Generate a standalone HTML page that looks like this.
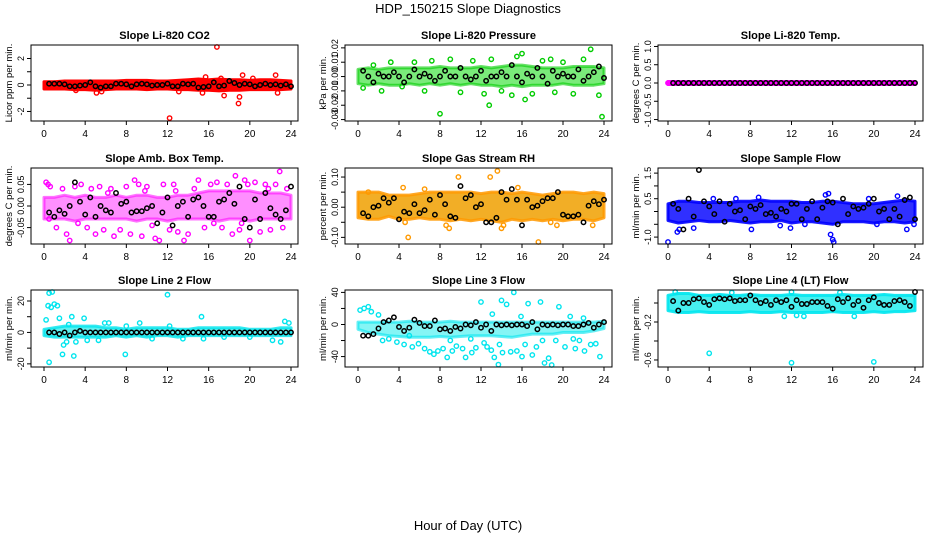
<!DOCTYPE html>
<html><head><meta charset="utf-8"><style>
body{margin:0;background:#fff}
svg{display:block;font-family:"Liberation Sans",sans-serif}
</style></head><body>
<svg id="c" width="936" height="540" viewBox="0 0 936 540">
<text x="468" y="13" text-anchor="middle" font-size="13">HDP_150215  Slope Diagnostics</text>
<text x="468" y="530" text-anchor="middle" font-size="13">Hour of Day (UTC)</text>
</svg>
<script>
const bandHours=[0,1,2,3,4,5,6,7,8,9,10,11,12,13,14,15,16,17,18,19,20,21,22,23,24];
const blackHours=[0.5,1,1.5,2,2.5,3,3.5,4,4.5,5,5.5,6,6.5,7,7.5,8,8.5,9,9.5,10,10.5,11,11.5,12,12.5,13,13.5,14,14.5,15,15.5,16,16.5,17,17.5,18,18.5,19,19.5,20,20.5,21,21.5,22,22.5,23,23.5,24];
const xTicks=[0,4,8,12,16,20,24];

const co2Lo=[-0.3,-0.3,-0.3,-0.35,-0.35,-0.4,-0.35,-0.3,-0.3,-0.3,-0.35,-0.3,-0.3,-0.35,-0.35,-0.4,-0.4,-0.45,-0.4,-0.4,-0.35,-0.35,-0.35,-0.35,-0.3];
const co2Hi=[0.25,0.25,0.3,0.3,0.3,0.3,0.3,0.3,0.35,0.35,0.35,0.3,0.3,0.35,0.4,0.45,0.4,0.45,0.4,0.4,0.35,0.4,0.4,0.35,0.3];
const co2Pts=[[16.8,2.9],[12.2,-2.5],[18.9,-1.4],[19.3,0.75],[22.5,0.75],[5.1,-0.6],[5.6,-0.5],[15.7,0.6],[15.4,-0.6],[17.5,-0.8],[22.7,-0.6],[19,-0.9],[3.1,-0.4],[13.1,-0.5],[17.2,0.5],[20.3,0.5]];
const co2Black=[0.1,0.1,0.1,0.05,-0.1,-0.1,-0.05,0,0.2,-0.1,-0.2,-0.1,-0.1,0.1,0.1,0.05,-0.1,0.05,0.1,0.05,-0.05,0,0,0.1,-0.1,-0.1,0.1,0.05,0.1,-0.2,-0.15,-0.1,0.2,-0.1,-0.05,0.3,0.15,0,0.1,0.05,-0.1,0,0.1,0,0.05,-0.05,0.05,-0.1];

const presLo=[-0.005,-0.006,-0.005,-0.006,-0.006,-0.005,-0.006,-0.005,-0.006,-0.005,-0.006,-0.005,-0.006,-0.006,-0.007,-0.006,-0.007,-0.006,-0.006,-0.006,-0.005,-0.006,-0.006,-0.006,-0.005];
const presHi=[0.005,0.006,0.005,0.006,0.006,0.006,0.006,0.006,0.007,0.006,0.006,0.006,0.007,0.006,0.007,0.008,0.008,0.007,0.006,0.006,0.006,0.007,0.007,0.007,0.006];
const presPts=[[0.5,-0.008],[1.5,0.008],[2.3,-0.01],[3.2,0.01],[4.3,-0.007],[5.5,0.01],[6.5,-0.01],[7.2,0.011],[8,-0.026],[9,0.012],[10,-0.011],[11.2,0.011],[12.3,-0.012],[13,0.012],[14,-0.01],[15.5,0.014],[16,0.016],[16.3,-0.016],[17,-0.012],[18,0.011],[19.2,-0.011],[20,0.01],[21,-0.012],[22,0.012],[22.7,0.019],[23.5,-0.013],[23.8,-0.028],[12.8,-0.02],[18.8,0.012],[15,-0.013]];
const presBlack=[0.004,0,-0.004,0.002,0,0,0.003,0,-0.004,0,0.005,0,0.002,0,-0.003,0,0.004,0,0,0.006,0,-0.002,0,0.004,-0.003,0,0,0.003,0,0.008,0,-0.004,0.002,0,0.006,0,-0.005,0.004,0,0.002,0,0,0.005,-0.003,0,0.003,0.007,-0.001];

const tempLo=[-0.04,-0.04,-0.04,-0.04,-0.04,-0.04,-0.04,-0.04,-0.04,-0.04,-0.04,-0.04,-0.04,-0.04,-0.04,-0.04,-0.04,-0.04,-0.04,-0.04,-0.04,-0.04,-0.04,-0.04,-0.04];
const tempHi=[0.04,0.04,0.04,0.04,0.04,0.04,0.04,0.04,0.04,0.04,0.04,0.04,0.04,0.04,0.04,0.04,0.04,0.04,0.04,0.04,0.04,0.04,0.04,0.04,0.04];
const tempPts=[[0,0],[0.3,0],[12,0],[24,0]];
const tempBlack=[0,0,0,0,0,0,0,0,0,0,0,0,0,0,0,0,0,0,0,0,0,0,0,0,0,0,0,0,0,0,0,0,0,0,0,0,0,0,0,0,0,0,0,0,0,0,0,0];

const ambLo=[-0.03,-0.03,-0.03,-0.035,-0.03,-0.03,-0.03,-0.03,-0.03,-0.035,-0.03,-0.03,-0.035,-0.03,-0.03,-0.03,-0.03,-0.035,-0.03,-0.03,-0.035,-0.03,-0.03,-0.03,-0.03];
const ambHi=[0.02,0.02,0.025,0.02,0.025,0.02,0.02,0.025,0.02,0.025,0.025,0.02,0.02,0.025,0.025,0.03,0.035,0.035,0.035,0.035,0.035,0.03,0.03,0.03,0.025];
const ambPts=[[0.2,0.055],[0.4,0.05],[0.6,0.045],[1.2,-0.05],[1.8,0.04],[2.2,-0.065],[2.5,-0.08],[3,0.045],[3.6,0.05],[4.2,-0.05],[4.6,0.04],[5,-0.065],[5.4,0.045],[5.8,-0.055],[6.5,0.04],[6.8,-0.07],[7.4,-0.055],[8,0.045],[8.4,-0.065],[8.8,0.06],[9.2,0.05],[9.5,-0.07],[10,0.045],[10.5,-0.045],[10.8,-0.075],[11.2,-0.08],[11.6,0.05],[12.2,-0.055],[12.6,0.05],[13,-0.06],[13.6,-0.08],[14,-0.065],[14.6,0.04],[15,0.06],[15.6,-0.05],[16.2,0.05],[16.8,0.055],[17.3,-0.05],[17.8,0.05],[18.3,-0.065],[18.6,0.07],[19,-0.055],[19.5,0.06],[19.8,0.05],[20,-0.08],[20.5,0.055],[21,-0.06],[21.5,0.05],[22,-0.055],[22.5,0.05],[22.9,0.08],[23.2,-0.05],[23.6,0.04],[0.5,-0.03],[3.3,-0.04],[6.2,0.03],[9.8,0.035],[12.8,0.035],[16.5,-0.04],[19.2,-0.04],[21.8,0.04]];
const ambBlack=[-0.015,-0.025,-0.01,-0.018,0,0.055,0.01,-0.02,0.02,-0.025,0,-0.01,-0.015,0.03,0.005,0.01,-0.015,-0.012,-0.012,-0.005,0,-0.04,-0.015,0.02,-0.045,0,0.01,-0.025,0.015,0.02,0,-0.025,-0.025,0.01,0.015,0.03,0.005,0.045,-0.03,-0.05,0.015,-0.03,0.03,-0.005,-0.02,-0.03,-0.01,0.045];

const rhLo=[-0.035,-0.04,-0.04,-0.03,-0.04,-0.04,-0.035,-0.04,-0.04,-0.045,-0.04,-0.045,-0.04,-0.045,-0.05,-0.04,-0.045,-0.04,-0.045,-0.04,-0.045,-0.04,-0.04,-0.045,-0.035];
const rhHi=[0.05,0.05,0.05,0.04,0.04,0.04,0.045,0.05,0.05,0.05,0.05,0.05,0.045,0.05,0.05,0.045,0.05,0.045,0.04,0.045,0.05,0.05,0.045,0.05,0.045];
const rhPts=[[4.6,-0.05],[4.9,-0.1],[8.6,-0.06],[8.9,-0.07],[9.8,0.1],[12.9,0.1],[13.6,0.12],[14.2,-0.06],[14,-0.07],[15.6,0.065],[17.6,-0.12],[18.8,-0.05],[19.4,-0.06],[22.9,-0.06],[4.4,0.065],[6.5,0.06],[1,0.05]];
const rhBlack=[-0.02,-0.03,0,0.005,0.03,0.015,0.03,-0.04,-0.015,-0.02,0.01,-0.02,-0.01,0.025,-0.025,0.04,0.01,-0.03,-0.035,0.07,0.03,0.04,0,0.01,-0.05,-0.05,-0.035,0.05,0.025,0.06,0.025,-0.06,0.025,0,0.005,0.02,0.03,0.03,0.05,-0.025,-0.03,-0.03,-0.025,-0.05,0.005,0.02,0.01,0.025];

const sfLo=[-0.35,-0.45,-0.4,-0.35,-0.4,-0.4,-0.35,-0.4,-0.45,-0.4,-0.4,-0.35,-0.45,-0.4,-0.4,-0.45,-0.5,-0.4,-0.4,-0.4,-0.45,-0.4,-0.4,-0.45,-0.4];
const sfHi=[0.3,0.4,0.4,0.35,0.35,0.35,0.35,0.4,0.4,0.45,0.4,0.4,0.4,0.35,0.35,0.4,0.4,0.35,0.3,0.3,0.3,0.35,0.4,0.45,0.4];
const sfPts=[[0,-1.2],[0.9,-0.8],[1.1,-0.7],[2.5,-0.65],[8.1,-0.7],[11.9,-0.65],[15.8,-0.9],[16,-1.1],[16.1,-1.25],[15.3,0.65],[15.6,0.7],[19.5,0.5],[22.3,0.6],[23.2,-0.7],[23.9,-0.5],[8.8,0.55],[6.6,0.5],[4.4,0.5],[10.9,-0.55],[13.3,-0.5],[20.3,-0.5]];
const sfBlack=[0.3,0.1,-0.7,0.5,-0.2,1.7,0.4,0.2,-0.1,0.4,-0.4,0.3,0,0.05,-0.3,0.2,0.1,0.25,-0.1,-0.05,-0.2,0.1,0,0.3,0.3,-0.3,0.1,0.4,-0.3,0.15,0.4,0.35,-0.5,0.5,-0.1,0.2,0.1,0.15,0.3,0.5,0,0.1,-0.3,0.1,-0.2,0.45,0.55,-0.3];

const l2Lo=[-2,-3,-3,-3,-3,-3,-3,-2,-3,-2,-3,-2,-2,-3,-2,-2,-2,-2,-2,-2,-2,-2,-2,-2,-2];
const l2Hi=[2,3,4,4,4,4,3,3,2,3,3,3,3,2,2,3,3,3,3,3,2,2,2,3,3];
const l2Pts=[[0.2,8],[0.4,17],[0.5,25],[0.8,26],[0.7,16],[1,18],[1.3,17],[0.5,-19],[1.5,9],[1.9,-8],[1.8,-14],[2.4,5],[2.7,10],[2.9,-15],[3.1,-6],[3.9,9],[4.2,-5],[5.3,-5],[5.9,6],[7.9,-14],[8,4],[9.3,6],[12,24],[12.2,4],[15.3,10],[15.5,-4],[20,-3],[22.2,-5],[23,-6],[23.4,7],[23.8,6],[2.2,-6],[6.3,6],[10.5,-4],[17.5,-3],[13.5,-4]];
const l2Black=[0,0,-1,0,-2,0,1,0,0,0,0,0,0,0,0,0,0,0,0,0,0,0,0,0,0,0,0,0,0,0,0,0,0,0,0,0,0,0,0,0,0,0,0,0,0,0,0,0];

const l3Lo=[-6,-10,-12,-14,-15,-16,-16,-16,-15,-16,-15,-14,-14,-14,-15,-16,-14,-12,-12,-12,-10,-10,-10,-8,-5];
const l3Hi=[3,3,3,3,3,4,3,3,3,4,3,3,3,3,3,3,3,3,3,3,3,3,3,3,4];
const l3Pts=[[0.2,18],[0.6,20],[1,22],[1.3,16],[2,12],[2.4,-20],[3,-18],[3.8,-22],[4.5,-25],[5.3,-28],[5.9,-24],[6.5,-30],[7,-34],[7.4,-37],[7.8,-33],[8.3,-30],[8.7,-41],[9.2,-33],[9.6,-27],[10.2,-30],[10.5,-41],[11.1,-35],[11.5,-29],[12,28],[12.3,-23],[12.6,-28],[13,-32],[13.3,-41],[13.7,-50],[14.1,-35],[14.5,25],[14.9,-34],[15.2,40],[15.5,-33],[16,-40],[16.6,26],[17,-38],[17.4,-28],[17.8,28],[18.2,-48],[18.6,-42],[18.9,-53],[19.3,-20],[19.6,22],[20.2,-28],[20.7,10],[21.2,-30],[21.6,-20],[22.1,-33],[22.7,-25],[23.2,-24],[23.6,-40],[5,-14],[9,-20],[11,-18],[13.8,-25],[16.3,-25],[18,-20],[21,-18],[14,30],[13.1,13],[15.9,10],[22,8]];
const l3Black=[-14,-14,-12,-5,3,5,9,-3,-8,-4,6,2,-2,-2,5,-6,-5,-8,-3,-5,0,-1,3,-4,0,-8,0,-1,0,-1,0,0,-2,3,-6,0,-1,0,-1,0,0,-2,-2,0,2,-4,0,3];

const l4Lo=[-0.08,-0.1,-0.1,-0.09,-0.1,-0.1,-0.1,-0.1,-0.09,-0.1,-0.1,-0.09,-0.1,-0.1,-0.1,-0.1,-0.09,-0.1,-0.1,-0.1,-0.09,-0.1,-0.09,-0.09,-0.08];
const l4Hi=[0.08,0.1,0.1,0.08,0.08,0.09,0.08,0.08,0.09,0.08,0.08,0.08,0.09,0.08,0.08,0.08,0.08,0.09,0.08,0.08,0.08,0.09,0.08,0.08,0.08];
const l4Pts=[[0.7,0.13],[4,-0.53],[12,-0.63],[20,-0.62],[12,0.12],[6.2,0.11],[11.3,-0.14],[12.5,-0.13],[13.2,-0.14],[18.1,-0.14],[16.7,0.11]];
const l4Black=[0.02,-0.08,0,0,0.04,0.05,0.01,-0.02,0.04,0.05,0.04,0.05,0.02,0.03,0.03,0.08,0.03,0,0.02,-0.02,0.03,0.01,0.03,-0.04,0.03,-0.01,-0.01,0.01,0.01,0.01,-0.03,-0.06,0.04,0.01,0.05,-0.02,0.02,-0.05,0.03,0.06,0,-0.02,-0.02,0.02,0.03,0.01,-0.03,0.12];

const NS='http://www.w3.org/2000/svg';
const svg=document.getElementById('c');
function mk(tag,attrs,parent){const e=document.createElementNS(NS,tag);for(const k in attrs)e.setAttribute(k,attrs[k]);(parent||svg).appendChild(e);return e;}

const cols=[{b0:31,b1:298,x0:44,x1:291},{b0:345,b1:612,x0:358,x1:604},{b0:658,b1:923,x0:668,x1:915}];
const rows=[{t:45,b:121},{t:168,b:244},{t:290,b:367}];
const panels=[
 {title:'Slope Li-820 CO2',ylab:'Licor ppm per min.',ymin:-2.72,ymax:3.02,ticks:[-2,-1,0,1,2],labs:['-2','','0','','2'],lo:co2Lo,hi:co2Hi,pts:co2Pts,blk:co2Black,col:'#ff0000',fill:'#ff0000',op:1},
 {title:'Slope Li-820 Pressure',ylab:'kPa per min.',ymin:-0.031,ymax:0.022,ticks:[-0.03,-0.02,-0.01,0,0.01,0.02],labs:['-0.03','-0.02','-0.01','0.00','0.01','0.02'],lo:presLo,hi:presHi,pts:presPts,blk:presBlack,col:'#00cc00',fill:'#22dd22',op:0.6},
 {title:'Slope Li-820 Temp.',ylab:'degrees C per min.',ymin:-1.04,ymax:1.04,ticks:[-1,-0.5,0,0.5,1],labs:['-1.0','-0.5','0.0','0.5','1.0'],lo:tempLo,hi:tempHi,pts:tempPts,blk:tempBlack,col:'#ff00ff',fill:'#ff66ff',op:1},
 {title:'Slope Amb. Box Temp.',ylab:'degrees C per min.',ymin:-0.088,ymax:0.088,ticks:[-0.05,0,0.05],labs:['-0.05','0.00','0.05'],lo:ambLo,hi:ambHi,pts:ambPts,blk:ambBlack,col:'#ff00ff',fill:'#ff33ff',op:0.55},
 {title:'Slope Gas Stream RH',ylab:'percent per min.',ymin:-0.122,ymax:0.13,ticks:[-0.1,-0.05,0,0.05,0.1],labs:['-0.10','','0.00','','0.10'],lo:rhLo,hi:rhHi,pts:rhPts,blk:rhBlack,col:'#ff9900',fill:'#f0a000',op:0.85},
 {title:'Slope Sample Flow',ylab:'ml/min per min.',ymin:-1.27,ymax:1.7,ticks:[-1,-0.5,0,0.5,1,1.5],labs:['-1.0','','','0.5','','1.5'],lo:sfLo,hi:sfHi,pts:sfPts,blk:sfBlack,col:'#0000ff',fill:'#1a1aff',op:0.9},
 {title:'Slope Line 2 Flow',ylab:'ml/min per min.',ymin:-22,ymax:27,ticks:[-20,-10,0,10,20],labs:['-20','','0','','20'],lo:l2Lo,hi:l2Hi,pts:l2Pts,blk:l2Black,col:'#00e5ee',fill:'#33eeee',op:0.8},
 {title:'Slope Line 3 Flow',ylab:'ml/min per min.',ymin:-53,ymax:43,ticks:[-40,-20,0,20,40],labs:['-40','','0','','40'],lo:l3Lo,hi:l3Hi,pts:l3Pts,blk:l3Black,col:'#00e5ee',fill:'#33eeee',op:0.6},
 {title:'Slope Line 4 (LT) Flow',ylab:'ml/min per min.',ymin:-0.674,ymax:0.137,ticks:[-0.6,-0.4,-0.2,0],labs:['-0.6','','-0.2',''],lo:l4Lo,hi:l4Hi,pts:l4Pts,blk:l4Black,col:'#00e5ee',fill:'#33eeee',op:0.9}
];

panels.forEach((p,i)=>{
  const c=cols[i%3], r=rows[Math.floor(i/3)];
  const g=mk('g',{});
  
  
  const X=t=>c.x0+(c.x1-c.x0)*t/24;
  const Y=v=>r.b-(r.b-r.t)*(v-p.ymin)/(p.ymax-p.ymin);
  const cy=v=>Math.max(r.t+2,Math.min(r.b-2,Y(v)));
  let d='';
  bandHours.forEach((h,k)=>{d+=(k?'L':'M')+X(h).toFixed(1)+','+cy(p.hi[k]).toFixed(1);});
  for(let k=bandHours.length-1;k>=0;k--){d+='L'+X(bandHours[k]).toFixed(1)+','+cy(p.lo[k]).toFixed(1);}
  const band=mk('path',{d:d+'Z',fill:p.fill,'fill-opacity':p.op,stroke:p.col,'stroke-width':3,'stroke-opacity':p.op,'stroke-linejoin':'round'},g);
  
  
  p.pts.forEach(q=>{
    const e=mk('circle',{cx:X(q[0]).toFixed(1),cy:cy(q[1]).toFixed(1),r:2.2,fill:'none',stroke:p.col,'stroke-width':1.4},g);
    
    
  });
  p.blk.forEach((v,k)=>{
    const e=mk('circle',{cx:X(blackHours[k]).toFixed(1),cy:cy(v).toFixed(1),r:2.2,fill:'none',stroke:'#000','stroke-width':1.5},g);
    
    
  });
  const box=mk('rect',{x:c.b0,y:r.t,width:c.b1-c.b0,height:r.b-r.t,fill:'none',stroke:'#000','stroke-width':1},g);
  
  
  const tt=mk('text',{x:(c.b0+c.b1)/2,y:r.t-6,'text-anchor':'middle','font-size':11,'font-weight':'bold'},g);
  tt.textContent=p.title;
  
  
  xTicks.forEach(t=>{
    mk('line',{x1:X(t),x2:X(t),y1:r.b,y2:r.b+4,stroke:'#000'},g);
    const e=mk('text',{x:X(t),y:r.b+16,'text-anchor':'middle','font-size':10},g);
    e.textContent=t;
    
    
  });
  p.ticks.forEach((t,k)=>{
    const y=Y(t);
    mk('line',{x1:c.b0-4,x2:c.b0,y1:y,y2:y,stroke:'#000'},g);
    if(p.labs[k]){
      const tx=c.b0-7;
      const e=mk('text',{x:tx,y:y,'text-anchor':'middle','font-size':9,transform:'rotate(-90 '+tx+' '+y+')'},g);
      e.textContent=p.labs[k];
      
      
    }
  });
  const ym=(r.t+r.b)/2, yx=c.b0-19;
  const yl=mk('text',{x:yx,y:ym,'text-anchor':'middle','font-size':9.5,transform:'rotate(-90 '+yx+' '+ym+')'},g);
  yl.textContent=p.ylab;
  
  
});
</script>
</body></html>
